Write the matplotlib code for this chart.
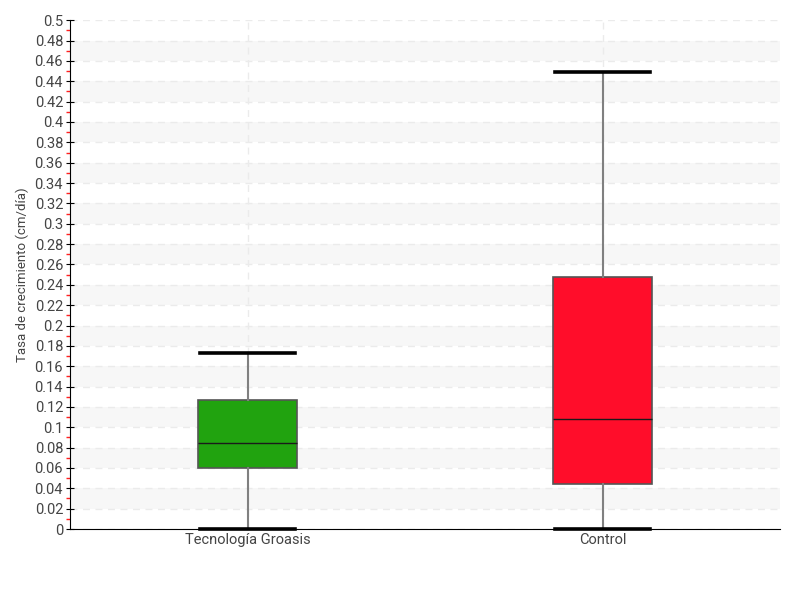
import matplotlib
matplotlib.use("Agg")
import matplotlib.pyplot as plt
from matplotlib.ticker import MultipleLocator, FuncFormatter

plt.rcParams['font.family'] = ['Roboto', 'DejaVu Sans']

categories = ["Tecnología Groasis", "Control"]
whislo = [0.0, 0.0]
q1 = [0.060, 0.0442]
med = [0.0845, 0.108]
q3 = [0.127, 0.2475]
whishi = [0.173, 0.449]
colors = ["#21a30f", "#ff0d2a"]

fig = plt.figure(figsize=(8, 6), dpi=100)
ax = fig.add_axes([0.0875, 0.1183, 0.8875, 0.848])

ax.set_xlim(0, 2)
ax.set_ylim(0, 0.5)

# alternating bands
y = 0.02
while y < 0.5:
    ax.axhspan(y, y + 0.02, color="#f7f7f7", zorder=0, lw=0)
    y += 0.04

positions = [0.5, 1.5]
stats = []
for i, c in enumerate(categories):
    stats.append(dict(label=c, whislo=whislo[i], q1=q1[i], med=med[i],
                      q3=q3[i], whishi=whishi[i], fliers=[]))

bp = ax.bxp(stats, positions=positions, widths=0.28, patch_artist=True,
            showfliers=False,
            whiskerprops=dict(color="#808080", lw=1.5),
            capprops=dict(color="black", lw=2.6),
            medianprops=dict(color="#1a1a1a", lw=1),
            boxprops=dict(edgecolor="#555555", lw=1.2),
            capwidths=0.27, zorder=3)
for patch, col in zip(bp['boxes'], colors):
    patch.set_facecolor(col)
for cap in bp['caps']:
    cap.set_clip_on(False)
    cap.set_zorder(5)

ax.yaxis.set_major_locator(MultipleLocator(0.02))
ax.yaxis.set_minor_locator(MultipleLocator(0.01))
ax.yaxis.set_major_formatter(FuncFormatter(lambda v, p: "%g" % round(v, 2)))
ax.grid(axis='y', which='major', color="#ebebeb", ls=(0, (5, 4)), lw=1, zorder=1)
ax.grid(axis='x', which='major', color="#ebebeb", ls=(0, (5, 4)), lw=1, zorder=1)

ax.tick_params(axis='y', which='major', direction='inout', length=6, color='black',
               labelsize=10.5, labelcolor='#444444', pad=2)
ax.tick_params(axis='y', which='minor', direction='out', length=3, width=1, color='#ff2020')
ax.tick_params(axis='x', which='both', length=0, labelsize=10.5, labelcolor='#444444', pad=3)
ax.set_xticks(positions)
ax.set_xticklabels(categories)

for s in ['top', 'right']:
    ax.spines[s].set_visible(False)
ax.spines['left'].set_color('black')
ax.spines['bottom'].set_color('black')

ax.set_ylabel("Tasa de crecimiento (cm/día)", fontsize=9.5, color='#444444')
ax.yaxis.set_label_coords(-0.058, 0.5)

fig.savefig("out.png", dpi=100)
